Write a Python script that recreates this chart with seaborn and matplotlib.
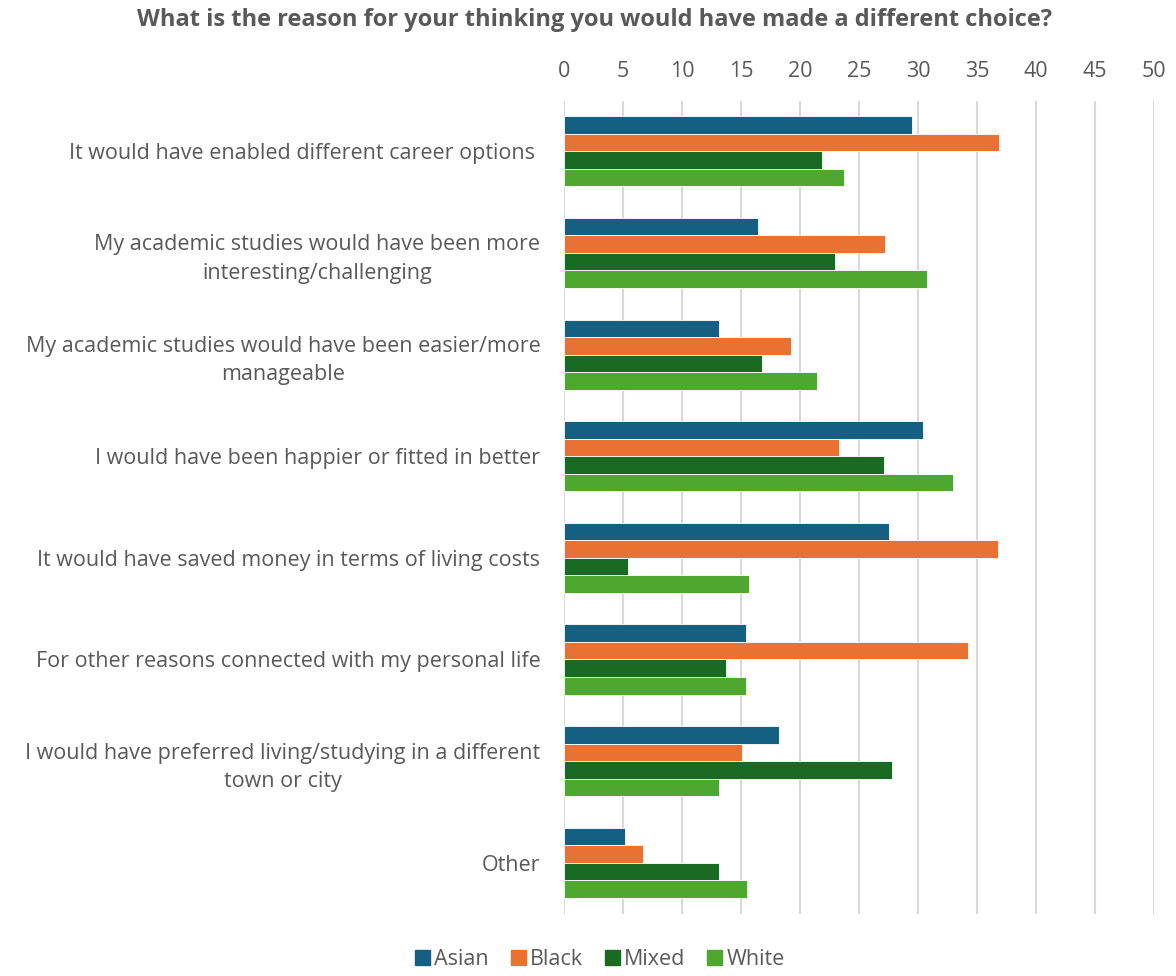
import seaborn as sns
import matplotlib.pyplot as plt
import pandas as pd

# Respuestas por grupo étnico (%)
reasons = [
    "It would have enabled different career options ",
    "My academic studies would have been more\ninteresting/challenging",
    "My academic studies would have been easier/more\nmanageable",
    "I would have been happier or fitted in better",
    "It would have saved money in terms of living costs",
    "For other reasons connected with my personal life",
    "I would have preferred living/studying in a different\ntown or city",
    "Other",
]
groups = ["Asian", "Black", "Mixed", "White"]
asian = [29.5, 16.4, 13.1, 30.4, 27.5, 15.4, 18.2, 5.2]
black = [36.9, 27.2, 19.2, 23.3, 36.8, 34.2, 15.1, 6.7]
mixed = [21.9, 23.0, 16.8, 27.1, 5.4, 13.7, 27.8, 13.1]
white = [23.7, 30.8, 21.4, 33.0, 15.7, 15.4, 13.1, 15.5]
colors = ["#156082", "#E97132", "#196B24", "#4EA72E"]

df = pd.DataFrame({
    "reason": reasons * 4,
    "group": [g for g in groups for _ in reasons],
    "value": asian + black + mixed + white,
})

plt.rcParams["font.family"] = ["Open Sans", "DejaVu Sans"]
text_col = "#595959"

fig = plt.figure(figsize=(11.76, 9.76), dpi=100)
ax = fig.add_axes([0.4796, 0.064, 0.5017, 0.833])

sns.barplot(data=df, y="reason", x="value", hue="group", order=reasons,
            hue_order=groups, palette=colors, saturation=1, orient="h",
            width=0.69, gap=0, edgecolor="white", linewidth=0.6, ax=ax)

ax.set_xlim(0, 50)
ax.set_xticks(range(0, 51, 5))
ax.xaxis.tick_top()
ax.tick_params(axis="x", length=0, labelsize=15.5, labelcolor=text_col, pad=13)
ax.tick_params(axis="y", length=0, labelsize=15.5, labelcolor=text_col, pad=17)
for lab in ax.get_yticklabels():
    lab.set_multialignment("center")
    lab.set_linespacing(1.45)
ax.grid(axis="x", color="#d9d9d9", linewidth=1.5)
ax.set_axisbelow(True)
for s in ax.spines.values():
    s.set_visible(False)
ax.set_xlabel("")
ax.set_ylabel("")

ax.legend_.remove()
handles = [plt.Rectangle((0, 0), 1, 1, color=c) for c in colors]
fig.legend(handles, groups, loc="center", bbox_to_anchor=(0.51, 0.017),
           ncol=4, frameon=False, fontsize=15.5, labelcolor=text_col,
           handlelength=0.7, handleheight=0.7, handletextpad=0.2,
           columnspacing=1.0)

fig.suptitle("What is the reason for your thinking you would have made a different choice?",
             x=0.506, y=0.992, fontsize=17, fontweight="bold", color=text_col)

fig.savefig("out.png", dpi=100)
